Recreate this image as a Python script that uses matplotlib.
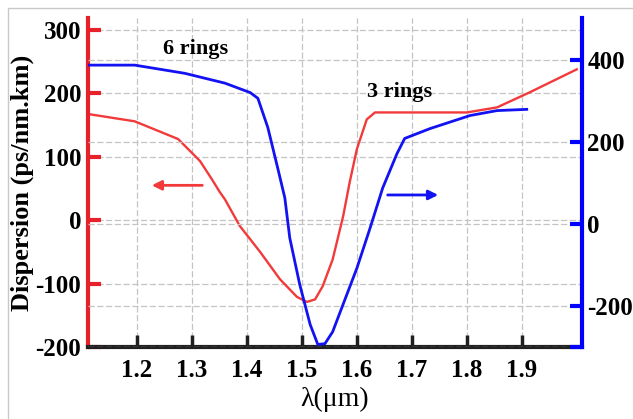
import matplotlib
matplotlib.use("Agg")
import matplotlib.pyplot as plt
from matplotlib.patches import Rectangle

# red curve, left axis (3 rings)
lam_red = [1.115, 1.196, 1.275, 1.306, 1.315, 1.336, 1.351, 1.360, 1.387, 1.424,
           1.460, 1.491, 1.509, 1.524, 1.538, 1.556, 1.575, 1.587, 1.600, 1.618,
           1.633, 1.700, 1.800, 1.855, 1.915, 2.000]
disp_red = [167, 156, 128, 101, 93, 65, 44, 33, -9, -50,
            -93, -121, -129, -125, -104, -62, 6, 60, 112, 159,
            170, 170, 170, 178, 202, 238]

# blue curve, right axis (6 rings)
lam_blue = [1.111, 1.196, 1.287, 1.360, 1.406, 1.420, 1.438, 1.456, 1.469, 1.478,
            1.496, 1.515, 1.529, 1.542, 1.556, 1.575, 1.600, 1.624, 1.647, 1.673,
            1.687, 1.733, 1.806, 1.855, 1.909]
disp_blue = [388, 388, 368, 344, 321, 307, 236, 137, 64, -34,
             -147, -245, -294, -292, -263, -196, -108, -10, 88, 172,
             209, 233, 265, 277, 280]

x_ticks = [1.2, 1.3, 1.4, 1.5, 1.6, 1.7, 1.8, 1.9]
left_ticks = [-200, -100, 0, 100, 200, 300]
right_ticks = [-300, -200, 0, 200, 400]
right_labels = ["", "-200", "0", "200", "400"]

red = "#f23a3a"
blue = "#1212f2"
spine_red = "#e8202a"
spine_blue = "#0000ff"

plt.rcParams["font.family"] = ["Liberation Serif", "DejaVu Serif"]
plt.rcParams["axes.unicode_minus"] = False

fig = plt.figure(figsize=(6.33, 4.19), dpi=100)
fig.patches.append(Rectangle((0.012, -0.1), 1.2, 1.08, transform=fig.transFigure,
                             fill=False, edgecolor="#c8c8c8", linewidth=1))
ax = fig.add_axes([0.139, 0.172, 0.78, 0.785])
ax2 = ax.twinx()

ax.plot(lam_red, disp_red, color=red, linewidth=1.7, solid_joinstyle="round")
ax2.plot(lam_blue, disp_blue, color=blue, linewidth=2.0, solid_joinstyle="round")

ax.set_xlim(1.111, 2.009)
ax.set_ylim(-200, 319)
ax2.set_ylim(-300, 503)

ax.set_xticks(x_ticks)
ax.set_yticks(left_ticks)
ax2.set_yticks(right_ticks)
ax2.set_yticklabels(right_labels)

for a in (ax, ax2):
    a.grid(True, color="#c4c4c4", linestyle=(0, (5, 2)), linewidth=0.9)
    a.spines["top"].set_visible(False)
ax.set_axisbelow(True)

ax.spines["left"].set_color(spine_red)
ax.spines["left"].set_linewidth(3)
ax.spines["right"].set_visible(False)
ax.spines["bottom"].set_color("#202020")
ax.spines["bottom"].set_linewidth(3)
ax2.spines["left"].set_visible(False)
ax2.spines["bottom"].set_visible(False)
ax2.spines["right"].set_color(spine_blue)
ax2.spines["right"].set_linewidth(3)

ax.tick_params(axis="y", direction="in", length=9, width=3, color=spine_red,
               labelsize=18, pad=5)
ax.tick_params(axis="x", direction="in", length=9, width=2.5, color="#202020",
               labelsize=18, pad=9)
ax2.tick_params(axis="y", direction="in", length=9, width=3, color=spine_blue,
                labelsize=18, pad=4)
for lab in ax.get_xticklabels() + ax.get_yticklabels() + ax2.get_yticklabels():
    lab.set_fontweight("bold")

ax.set_ylabel("Dispersion (ps/nm.km)", fontsize=19, fontweight="bold", labelpad=1)
ax.set_xlabel("λ(μm)", fontsize=20, labelpad=3)

ax.text(1.306, 270, "6 rings", fontsize=16, fontweight="bold", ha="center", va="center")
ax.text(1.678, 203, "3 rings", fontsize=16, fontweight="bold", ha="center", va="center")

ax.annotate("", xy=(1.222, 55), xytext=(1.324, 55),
            arrowprops=dict(arrowstyle="-|>", color=red, lw=2, mutation_scale=14))
ax2.annotate("", xy=(1.753, 71), xytext=(1.651, 71),
             arrowprops=dict(arrowstyle="-|>", color=blue, lw=2, mutation_scale=14))

fig.savefig("out.png", dpi=100)
